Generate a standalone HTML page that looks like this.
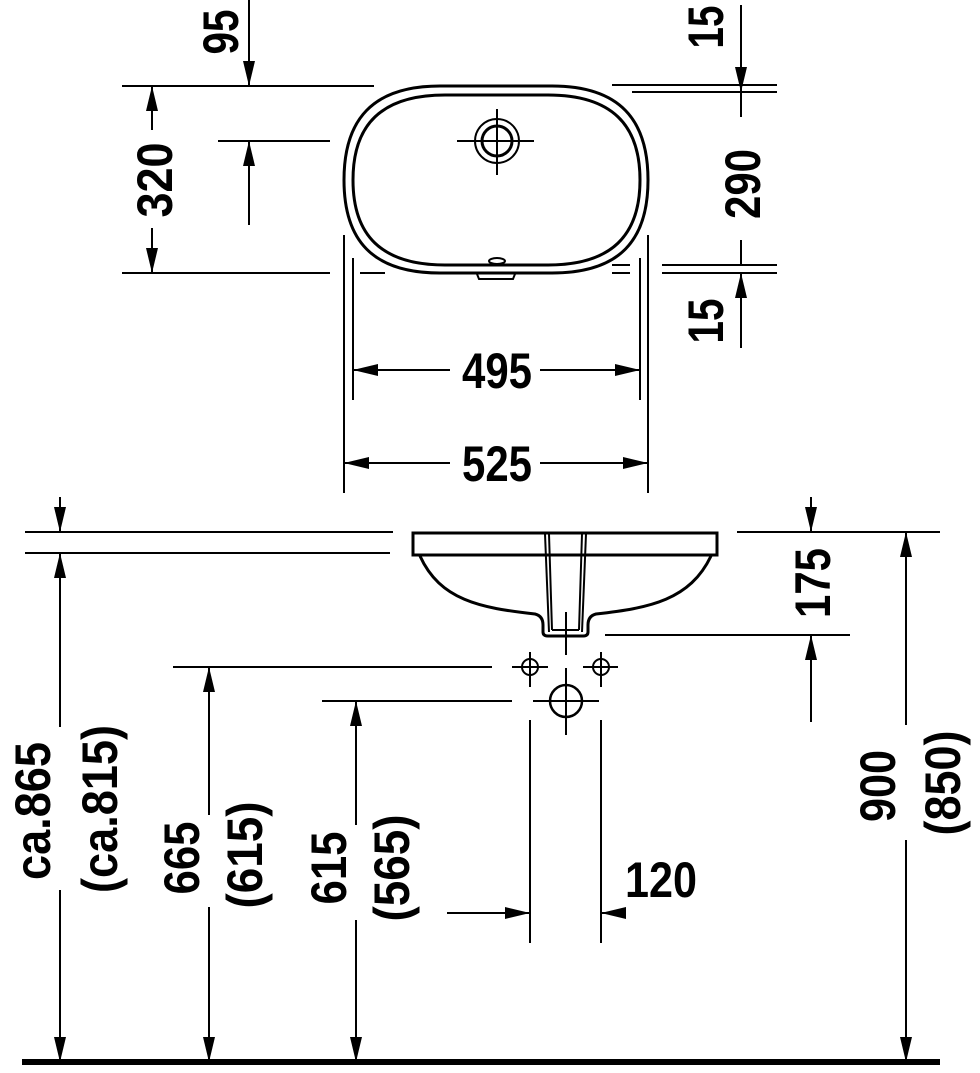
<!DOCTYPE html>
<html><head><meta charset="utf-8"><style>
html,body{margin:0;padding:0;background:#fff}
svg{display:block}
text{font-family:"Liberation Sans",sans-serif;font-weight:bold;font-size:50px;fill:#000}
</style></head><body>
<svg width="980" height="1073" viewBox="0 0 980 1073" xmlns="http://www.w3.org/2000/svg">
<defs>
<marker id="a" markerWidth="26" markerHeight="12" refX="25" refY="6" orient="auto" markerUnits="userSpaceOnUse"><path d="M0,0 L25,6 L0,12 z" fill="#000"/></marker>
</defs>
<g stroke="#000" stroke-width="2" fill="none">
<!-- TOP VIEW basin -->
<path d="M440,86 L552,86 C620,86 648,120 648,180 C648,240 620,273 552,273 L440,273 C372,273 344,240 344,180 C344,120 372,86 440,86 Z" stroke-width="3"/>
<path d="M445,95 L548,95 C612,95 640,125 640,180 C640,235 612,265 548,265 L445,265 C381,265 353,235 353,180 C353,125 381,95 445,95 Z" stroke-width="3"/>
<circle cx="497" cy="141" r="22" stroke-width="2"/>
<circle cx="497" cy="141" r="15" stroke-width="3"/>
<line x1="457" y1="141" x2="534" y2="141"/>
<line x1="497" y1="109" x2="497" y2="175"/>
<ellipse cx="497" cy="261" rx="8" ry="3"/>
<path d="M477,274 L479,279 L513,279 L515,274"/>
<!-- top extension lines -->
<line x1="122" y1="86" x2="374" y2="86"/>
<line x1="612" y1="85" x2="777" y2="85"/>
<line x1="632" y1="92" x2="777" y2="92"/>
<line x1="122" y1="273" x2="330" y2="273"/>
<line x1="360" y1="273" x2="385" y2="273"/>
<line x1="218" y1="141" x2="330" y2="141"/>
<line x1="612" y1="265" x2="630" y2="265"/>
<line x1="662" y1="265" x2="777" y2="265"/>
<line x1="612" y1="273" x2="630" y2="273"/>
<line x1="662" y1="273" x2="777" y2="273"/>
<!-- 320 -->
<line x1="152" y1="130" x2="152" y2="86" marker-end="url(#a)"/>
<line x1="152" y1="228" x2="152" y2="273" marker-end="url(#a)"/>
<!-- 95 -->
<line x1="249" y1="0" x2="249" y2="86" marker-end="url(#a)"/>
<line x1="249" y1="225" x2="249" y2="141" marker-end="url(#a)"/>
<!-- 15/290/15 -->
<line x1="741" y1="5" x2="741" y2="92" marker-end="url(#a)"/>
<line x1="741" y1="92" x2="741" y2="117"/>
<line x1="741" y1="240" x2="741" y2="265"/>
<line x1="741" y1="348" x2="741" y2="273" marker-end="url(#a)"/>
<!-- verticals -->
<line x1="344" y1="235" x2="344" y2="493"/>
<line x1="353" y1="258" x2="353" y2="400"/>
<line x1="640" y1="258" x2="640" y2="400"/>
<line x1="648" y1="235" x2="648" y2="493"/>
<line x1="450" y1="370" x2="353" y2="370" marker-end="url(#a)"/>
<line x1="540" y1="370" x2="640" y2="370" marker-end="url(#a)"/>
<line x1="450" y1="463" x2="344" y2="463" marker-end="url(#a)"/>
<line x1="540" y1="463" x2="648" y2="463" marker-end="url(#a)"/>

<!-- SIDE VIEW -->
<rect x="413" y="533" width="304" height="22" stroke-width="3"/>
<path d="M420,556 C440,600 480,608 535,614 Q543,616 543,625 L543,632 Q543,636 548,636 L583,636 Q588,636 588,632 L588,625 Q588,616 596,614 C650,608 690,600 711,556" stroke-width="3"/>
<line x1="545" y1="534" x2="549" y2="632"/>
<line x1="549" y1="534" x2="552" y2="630"/>
<line x1="586" y1="534" x2="582" y2="632"/>
<line x1="582" y1="534" x2="579" y2="630"/>
<line x1="552" y1="630" x2="579" y2="630"/>
<line x1="566" y1="612" x2="566" y2="655"/>
<line x1="566" y1="668" x2="566" y2="735"/>
<circle cx="530" cy="667" r="8"/><circle cx="601" cy="667" r="8"/>
<circle cx="566" cy="701" r="16" stroke-width="2.5"/>
<line x1="512" y1="667" x2="548" y2="667"/><line x1="530" y1="652" x2="530" y2="687"/>
<line x1="583" y1="667" x2="618" y2="667"/><line x1="601" y1="652" x2="601" y2="687"/>
<line x1="533" y1="701" x2="599" y2="701"/>
<!-- extension lines side -->
<line x1="25" y1="532" x2="393" y2="532"/>
<line x1="25" y1="553" x2="390" y2="553"/>
<line x1="737" y1="532" x2="940" y2="532"/>
<line x1="605" y1="635" x2="850" y2="635"/>
<line x1="173" y1="667" x2="492" y2="667"/>
<line x1="322" y1="701" x2="512" y2="701"/>
<line x1="530" y1="720" x2="530" y2="943"/>
<line x1="601" y1="720" x2="601" y2="943"/>
<!-- ca.865 -->
<line x1="60" y1="497" x2="60" y2="532" marker-end="url(#a)"/>
<line x1="60" y1="727" x2="60" y2="553" marker-end="url(#a)"/>
<line x1="60" y1="890" x2="60" y2="1062" marker-end="url(#a)"/>
<!-- 665 -->
<line x1="209" y1="815" x2="209" y2="667" marker-end="url(#a)"/>
<line x1="209" y1="907" x2="209" y2="1062" marker-end="url(#a)"/>
<!-- 615 -->
<line x1="356" y1="825" x2="356" y2="701" marker-end="url(#a)"/>
<line x1="356" y1="920" x2="356" y2="1062" marker-end="url(#a)"/>
<!-- 175 -->
<line x1="811" y1="497" x2="811" y2="532" marker-end="url(#a)"/>
<line x1="811" y1="722" x2="811" y2="635" marker-end="url(#a)"/>
<!-- 900 -->
<line x1="906" y1="725" x2="906" y2="532" marker-end="url(#a)"/>
<line x1="906" y1="840" x2="906" y2="1062" marker-end="url(#a)"/>
<!-- 120 -->
<line x1="447" y1="913" x2="530" y2="913" marker-end="url(#a)"/>
<line x1="625" y1="913" x2="601" y2="913" marker-end="url(#a)"/>
<line x1="22" y1="1062" x2="940" y2="1062" stroke-width="6"/>
</g>
<!-- text -->
<g>
<text x="497" y="388" text-anchor="middle" textLength="70" lengthAdjust="spacingAndGlyphs">495</text>
<text x="497" y="481" text-anchor="middle" textLength="70" lengthAdjust="spacingAndGlyphs">525</text>
<text x="625" y="897" textLength="72" lengthAdjust="spacingAndGlyphs">120</text>
<text transform="translate(172,180) rotate(-90)" text-anchor="middle" textLength="75" lengthAdjust="spacingAndGlyphs">320</text>
<text transform="translate(238,32) rotate(-90)" text-anchor="middle" textLength="45" lengthAdjust="spacingAndGlyphs">95</text>
<text transform="translate(723,27) rotate(-90)" text-anchor="middle" textLength="43" lengthAdjust="spacingAndGlyphs">15</text>
<text transform="translate(760,184) rotate(-90)" text-anchor="middle" textLength="70" lengthAdjust="spacingAndGlyphs">290</text>
<text transform="translate(723,321) rotate(-90)" text-anchor="middle" textLength="45" lengthAdjust="spacingAndGlyphs">15</text>
<text transform="translate(830,583) rotate(-90)" text-anchor="middle" textLength="70" lengthAdjust="spacingAndGlyphs">175</text>
<text transform="translate(895,786) rotate(-90)" text-anchor="middle" textLength="72" lengthAdjust="spacingAndGlyphs">900</text>
<text transform="translate(960,783) rotate(-90)" text-anchor="middle" textLength="105" lengthAdjust="spacingAndGlyphs">(850)</text>
<text transform="translate(50,811) rotate(-90)" text-anchor="middle" textLength="138" lengthAdjust="spacingAndGlyphs">ca.865</text>
<text transform="translate(117,809) rotate(-90)" text-anchor="middle" textLength="168" lengthAdjust="spacingAndGlyphs">(ca.815)</text>
<text transform="translate(199,858) rotate(-90)" text-anchor="middle" textLength="73" lengthAdjust="spacingAndGlyphs">665</text>
<text transform="translate(262,855) rotate(-90)" text-anchor="middle" textLength="107" lengthAdjust="spacingAndGlyphs">(615)</text>
<text transform="translate(346,868) rotate(-90)" text-anchor="middle" textLength="73" lengthAdjust="spacingAndGlyphs">615</text>
<text transform="translate(409,868) rotate(-90)" text-anchor="middle" textLength="107" lengthAdjust="spacingAndGlyphs">(565)</text>
</g>
</svg>
</body></html>
